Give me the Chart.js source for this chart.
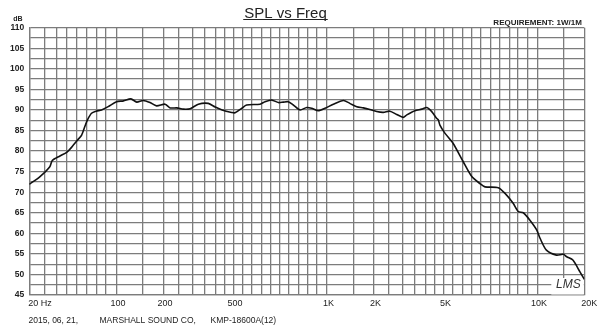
<!DOCTYPE html>
<html>
<head>
<meta charset="utf-8">
<title>SPL vs Freq</title>
<script src="https://cdn.jsdelivr.net/npm/chart.js@4.4.0/dist/chart.umd.min.js"></script>
<style>
  html, body { margin: 0; padding: 0; background: #fff; }
  #wrap { position: relative; width: 600px; height: 332px; }
</style>
</head>
<body>
<div id="wrap"><canvas id="spl"></canvas></div>
<script>
// Measured sound pressure level of the driver (1W / 1M sweep)
const FREQ_HZ = [20, 26.8, 34, 36, 43, 50, 55, 61, 65, 68.5,
  71, 75, 80, 85, 92, 100, 113, 127, 138, 150,
  167, 183, 205, 222, 244, 267, 292, 325, 368, 400,
  436, 489, 508, 545, 571, 642, 669, 706, 741, 768,
  796, 822, 857, 896, 922, 957, 990, 1120, 1310, 1430,
  1580, 1740, 1900, 2090, 2310, 2530, 2780, 3020, 3170, 3510,
  3820, 4060, 4320, 4580, 4680, 4770, 5060, 5500, 6040, 6490,
  6940, 7210, 7940, 8290, 8730, 9020, 9290, 9630, 9970, 10500,
  11700, 13600, 14900, 15700, 17200, 18900, 20000];

const SPL_DB = [71.9, 73.8, 76.2, 77.7, 78.8, 79.7, 80.9, 82.7, 83.9, 86.1,
  87.6, 89.2, 89.7, 90.0, 90.8, 92.0, 92.2, 92.7, 91.9, 92.3,
  91.8, 91.0, 91.4, 90.5, 90.5, 90.2, 90.3, 91.4, 91.6, 90.7,
  90.0, 89.4, 89.3, 90.4, 91.2, 91.4, 92.0, 92.4, 91.8, 91.9,
  92.0, 91.2, 90.0, 90.6, 90.4, 89.8, 90.4, 91.4, 92.3, 91.6,
  90.8, 90.5, 90.1, 89.6, 89.4, 89.7, 88.9, 88.2, 88.8, 89.8,
  90.2, 90.6, 89.6, 88.0, 87.6, 86.3, 84.3, 81.9, 77.4, 73.8,
  72.1, 71.3, 71.1, 69.7, 67.3, 65.3, 65.0, 63.2, 60.8, 58.8,
  55.9, 54.7, 54.9, 54.3, 53.5, 50.7, 48.8];

// Axis ranges and labels
const FREQ_MIN = 20;
const FREQ_MAX = 20000;
const DB_MIN = 45;
const DB_MAX = 110;
const DB_STEP = 2.5;
const DB_LABEL_EVERY = 5;
const X_LABEL_VALUES = [20, 100, 200, 500, 1000, 2000, 5000, 10000, 20000];
const X_LABEL_TEXT = ['20 Hz', '100', '200', '500', '1K', '2K', '5K', '10K', '20K'];

const TITLE = 'SPL vs Freq';
const REQUIREMENT = 'REQUIREMENT: 1W/1M';
const FOOTER = ['2015, 06, 21,', 'MARSHALL SOUND CO,', 'KMP-18600A(12)'];
const STAMP = 'LMS';

// Grid frequencies of the chart paper: 10s below 100 Hz, then half-steps per decade
function gridFrequencies() {
  const out = [];
  for (let f = 20; f <= 100; f += 10) out.push(f);
  [100, 1000, 10000].forEach(dec => {
    const steps = [1.5, 2, 2.5, 3, 3.5, 4, 4.5, 5, 5.5, 6, 6.5, 7, 7.5, 8, 8.5, 9, 9.5, 10];
    steps.forEach(s => { const f = Math.round(dec * s); if (f <= FREQ_MAX) out.push(f); });
  });
  return out;
}

// Frequency paper scale: each decade has the paper's own spacing of its
// mantissa lines, and the lowest decade is printed narrower than the rest.
const PAPER_MANTISSA = [1, 1.5, 2, 2.5, 3, 3.5, 4, 4.5, 5, 5.5, 6, 6.5, 7, 7.5, 8, 8.5, 9, 9.5, 10];
const PAPER_MANTISSA_POS = [0, .126, .223, .295, .36, .417, .469, .514, .556, .599, .644, .689, .732, .777, .819, .866, .907, .952, 1];
const PAPER_DECADE_SPAN = { 1: 0.534, 2: 1, 3: 1, 4: 1 };

class PaperFreqScale extends Chart.Scale {
  static id = 'paperfreq';
  static defaults = {};

  parse(raw) { return typeof raw === 'number' ? raw : Number(raw); }

  determineDataLimits() {
    const o = this.options;
    this.min = o.min != null ? o.min : FREQ_MIN;
    this.max = o.max != null ? o.max : FREQ_MAX;
  }

  buildTicks() {
    return gridFrequencies().filter(v => v >= this.min && v <= this.max).map(v => ({ value: v }));
  }

  _mantPos(m) {
    if (m <= 1) return 0;
    if (m >= 10) return 1;
    for (let i = 0; i < PAPER_MANTISSA.length - 1; i++) {
      const a = PAPER_MANTISSA[i], b = PAPER_MANTISSA[i + 1];
      if (m >= a && m <= b) {
        const t = (m - a) / (b - a);
        return PAPER_MANTISSA_POS[i] + t * (PAPER_MANTISSA_POS[i + 1] - PAPER_MANTISSA_POS[i]);
      }
    }
    return 1;
  }

  _u(f) {
    const d = Math.floor(Math.log10(f) + 1e-9);
    const m = f / Math.pow(10, d);
    let base = 0;
    for (let k = 1; k < d; k++) base += PAPER_DECADE_SPAN[k] ?? 1;
    return base + (PAPER_DECADE_SPAN[d] ?? 1) * this._mantPos(m);
  }

  configure() {
    super.configure();
    this._uMin = this._u(this.min);
    this._uMax = this._u(this.max);
  }

  getPixelForValue(value) {
    if (value == null || isNaN(value)) return NaN;
    return this.getPixelForDecimal((this._u(value) - this._uMin) / (this._uMax - this._uMin));
  }

  getValueForPixel(pixel) {
    const target = this.getDecimalForPixel(pixel);
    let lo = Math.log10(this.min), hi = Math.log10(this.max);
    for (let i = 0; i < 40; i++) {
      const mid = (lo + hi) / 2;
      const dec = (this._u(Math.pow(10, mid)) - this._uMin) / (this._uMax - this._uMin);
      if (dec < target) lo = mid; else hi = mid;
    }
    return Math.pow(10, (lo + hi) / 2);
  }

  getPixelForTick(index) {
    const t = this.ticks[index];
    return t ? this.getPixelForValue(t.value) : NaN;
  }

  getLabelForValue(value) { return String(value); }
}
Chart.register(PaperFreqScale);

const GRID = '#7c7c7c';
const FONT = "'Liberation Sans', Arial, sans-serif";

// Text and stamp drawn around the plot
const paperText = {
  id: 'paperText',
  beforeDatasetsDraw(chart) {
    const { ctx, chartArea } = chart;
    ctx.save();
    ctx.fillStyle = '#fff';
    ctx.fillRect(chartArea.right - 33, chartArea.bottom - 17, 32.5, 16.5);
    ctx.fillStyle = '#333';
    ctx.font = `italic 12px ${FONT}`;
    ctx.textAlign = 'center';
    ctx.textBaseline = 'middle';
    ctx.fillText(STAMP, chartArea.right - 16, chartArea.bottom - 10);
    ctx.restore();
  },
  afterDraw(chart) {
    const { ctx, chartArea } = chart;
    const xs = chart.scales.x;
    ctx.save();
    ctx.fillStyle = '#222';
    ctx.strokeStyle = '#222';

    // title with underline
    ctx.font = `15px ${FONT}`;
    ctx.textAlign = 'center';
    ctx.textBaseline = 'alphabetic';
    const tx = 285.5;
    ctx.fillText(TITLE, tx, 17.5);
    const tw = ctx.measureText(TITLE).width;
    ctx.lineWidth = 1;
    ctx.beginPath();
    ctx.moveTo(tx - tw / 2 - 1, 19.5);
    ctx.lineTo(tx + tw / 2 + 1, 19.5);
    ctx.stroke();

    // requirement note
    ctx.font = `bold 8px ${FONT}`;
    ctx.textAlign = 'right';
    ctx.textBaseline = 'middle';
    ctx.fillText(REQUIREMENT, chartArea.right - 2.5, 23);

    // unit over the level axis
    ctx.font = `bold 7px ${FONT}`;
    ctx.textAlign = 'center';
    ctx.fillText('dB', 18, 19.5);

    // frequency labels
    ctx.font = `9px ${FONT}`;
    ctx.textBaseline = 'middle';
    X_LABEL_VALUES.forEach((v, i) => {
      const px = xs.getPixelForValue(v);
      if (i === 0) {
        ctx.textAlign = 'left';
        ctx.fillText(X_LABEL_TEXT[i], px - 1, 304);
      } else if (v === FREQ_MAX) {
        ctx.textAlign = 'center';
        ctx.fillText(X_LABEL_TEXT[i], px + 5, 304);
      } else {
        ctx.textAlign = 'center';
        ctx.fillText(X_LABEL_TEXT[i], px + 1.5, 304);
      }
    });

    // footer line
    ctx.font = `8.5px ${FONT}`;
    ctx.textAlign = 'left';
    ctx.fillText(FOOTER[0], 28.5, 320.5);
    ctx.fillText(FOOTER[1], 99.5, 320.5);
    ctx.fillText(FOOTER[2], 210.5, 320.5);
    ctx.restore();
  }
};

new Chart(document.getElementById('spl'), {
  type: 'line',
  data: {
    datasets: [{
      label: 'SPL',
      data: FREQ_HZ.map((f, i) => ({ x: f, y: SPL_DB[i] })),
      borderColor: '#111',
      borderWidth: 1.6,
      pointRadius: 0,
      tension: 0.25,
      fill: false
    }]
  },
  options: {
    responsive: true,
    maintainAspectRatio: false,
    animation: false,
    events: [],
    layout: { padding: { left: 0, right: 15.7, top: 27.7, bottom: 37 } },
    plugins: { legend: { display: false }, tooltip: { enabled: false }, title: { display: false } },
    scales: {
      x: {
        type: 'paperfreq',
        min: FREQ_MIN,
        max: FREQ_MAX,
        grid: { color: GRID, lineWidth: 1.3, drawTicks: false },
        border: { display: true, color: GRID, width: 1.3 },
        ticks: { display: false, autoSkip: false },
        afterFit(s) { s.height = 0; }
      },
      y: {
        type: 'linear',
        min: DB_MIN,
        max: DB_MAX,
        grid: { color: GRID, lineWidth: 1.3, drawTicks: false },
        border: { display: true, color: GRID, width: 1.3 },
        ticks: {
          stepSize: DB_STEP,
          autoSkip: false,
          padding: 5,
          color: '#222',
          font: { family: FONT, size: 8.5, weight: 'bold' },
          callback: v => (Math.abs(v % DB_LABEL_EVERY) < 1e-6 ? String(v) : '')
        },
        afterFit(s) { s.width = 29.3; }
      }
    }
  },
  plugins: [paperText]
});
</script>
</body>
</html>
